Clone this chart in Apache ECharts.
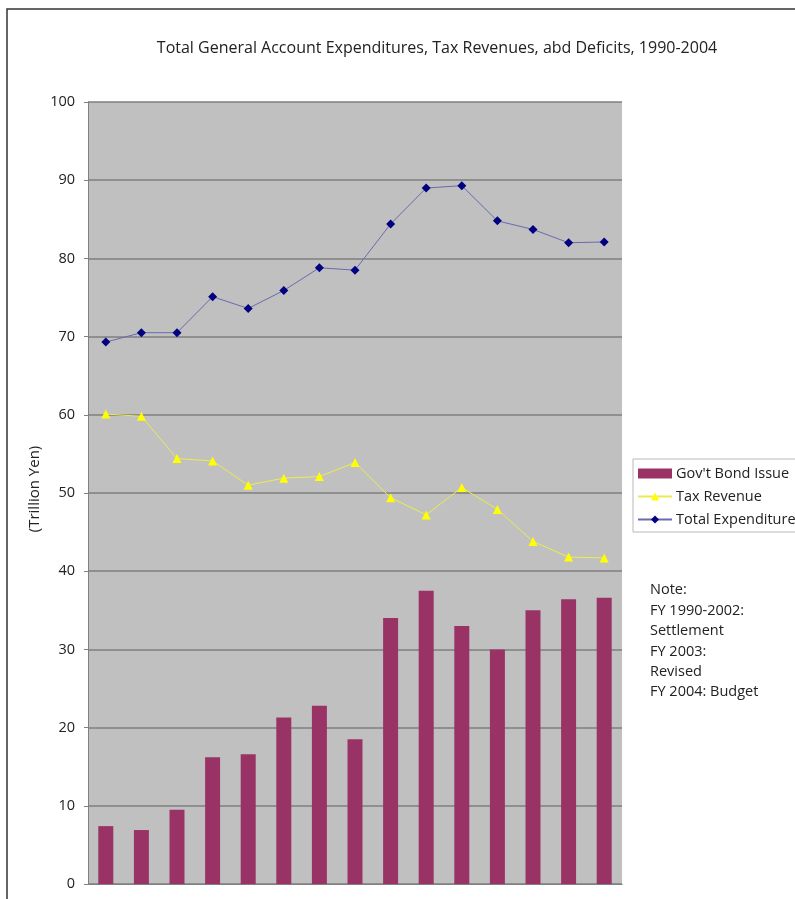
<!DOCTYPE html>
<html>
<head>
<meta charset="utf-8">
<script src="https://cdn.jsdelivr.net/npm/echarts@6/dist/echarts.min.js"></script>
<style>
html,body{margin:0;padding:0;background:#fff;}
#c{width:795px;height:899px;}
</style>
</head>
<body>
<div id="c"></div>
<script>
const years = ['1990','1991','1992','1993','1994','1995','1996','1997','1998','1999','2000','2001','2002','2003','2004'];
const bondIssue = [7.4, 6.9, 9.5, 16.2, 16.6, 21.3, 22.8, 18.5, 34.0, 37.5, 33.0, 30.0, 35.0, 36.4, 36.6];
const taxRevenue = [60.1, 59.8, 54.4, 54.1, 51.0, 51.9, 52.1, 53.9, 49.4, 47.2, 50.7, 47.9, 43.8, 41.8, 41.7];
const totalExpenditure = [69.3, 70.5, 70.5, 75.1, 73.6, 75.9, 78.8, 78.5, 84.4, 89.0, 89.3, 84.8, 83.7, 82.0, 82.1];
const yTicks = { min: 0, max: 100, interval: 10 };
const titleText = 'Total General Account Expenditures, Tax Revenues, abd Deficits, 1990-2004';
const noteLines = ['Note:', 'FY 1990-2002:', 'Settlement', 'FY 2003:', 'Revised', 'FY 2004: Budget'];

const chart = echarts.init(document.getElementById('c'), null, {renderer: 'canvas'});
const font = '"Open Sans", "Noto Sans", sans-serif';
chart.setOption({
  animation: false,
  backgroundColor: '#ffffff',
  textStyle: { fontFamily: font },
  title: {
    text: titleText,
    left: 432, top: 35, textAlign: 'center',
    textStyle: { fontSize: 16, fontWeight: 'normal', color: '#222', fontFamily: font }
  },
  grid: {
    left: 88, right: 173, top: 102, bottom: 15,
    outerBoundsMode: 'none', containLabel: false,
    show: true, backgroundColor: '#c0c0c0', borderWidth: 0
  },
  legend: {
    orient: 'vertical', left: 633, top: 459,
    itemGap: 8, itemWidth: 34, itemHeight: 10,
    padding: [7, 10, 5, 4],
    borderColor: '#b8b8b8', borderWidth: 1,
    textStyle: { fontSize: 14.5, color: '#222', fontFamily: font, padding: [0, 0, 0, -1] },
    data: [
      { name: "Gov't Bond Issue", icon: 'rect' },
      { name: 'Tax Revenue' },
      { name: 'Total Expenditure' }
    ]
  },
  graphic: [
    { type: 'rect', shape: { x: 7, y: 9, width: 820, height: 920 }, style: { fill: 'none', stroke: '#333', lineWidth: 1.5 }, silent: true, z: -1 },
    { type: 'text', x: 35, y: 489, rotation: Math.PI / 2, style: { text: '(Trillion Yen)', font: '15px ' + font, fill: '#222', align: 'center', verticalAlign: 'middle' } },
    { type: 'text', left: 650, top: 580, style: { text: noteLines.join('\n'), font: '14.5px ' + font, fill: '#222', lineHeight: 20.4 } }
  ],
  xAxis: {
    type: 'category', data: years,
    axisLine: { lineStyle: { color: '#808080', width: 1 } },
    axisTick: { inside: true, length: 4, lineStyle: { color: '#808080' } },
    axisLabel: { fontSize: 13, color: '#222', margin: 14 }
  },
  yAxis: {
    type: 'value', min: yTicks.min, max: yTicks.max, interval: yTicks.interval,
    axisLine: { show: true, lineStyle: { color: '#808080' } },
    axisTick: { show: true, length: 4, lineStyle: { color: '#808080' } },
    axisLabel: { fontSize: 14.5, color: '#222', margin: 13, fontFamily: font },
    splitLine: { lineStyle: { color: '#7f7f7f', width: 1.5 } }
  },
  series: [
    {
      name: "Gov't Bond Issue", type: 'bar', data: bondIssue, barWidth: 15,
      itemStyle: { color: '#993366' }
    },
    {
      name: 'Tax Revenue', type: 'line', data: taxRevenue,
      symbol: 'triangle', symbolSize: 9,
      lineStyle: { color: '#ecec50', width: 1 },
      itemStyle: { color: '#ffff00' }
    },
    {
      name: 'Total Expenditure', type: 'line', data: totalExpenditure,
      symbol: 'diamond', symbolSize: 9,
      lineStyle: { color: '#6a6ab0', width: 1 },
      itemStyle: { color: '#000080' }
    }
  ]
});
</script>
</body>
</html>
